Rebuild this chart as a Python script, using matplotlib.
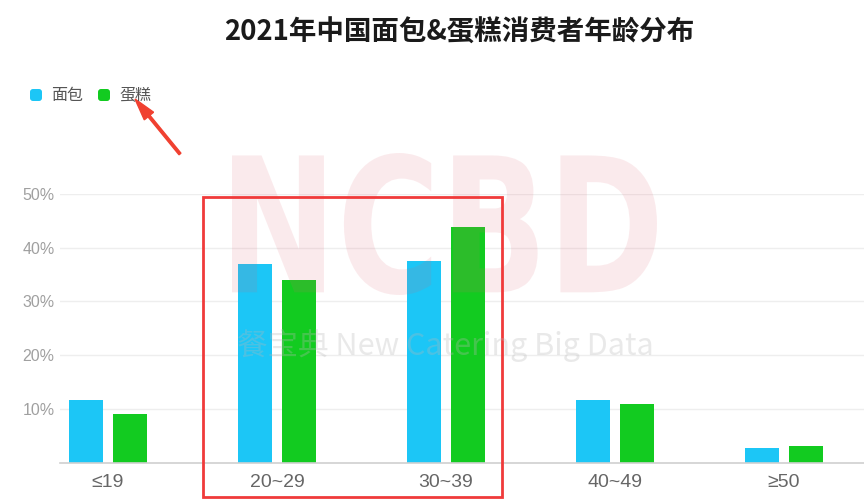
import matplotlib.pyplot as plt
import numpy as np
from matplotlib.patches import FancyBboxPatch, Rectangle, PathPatch, FancyArrow
from matplotlib.textpath import TextPath
from matplotlib.font_manager import FontProperties
from matplotlib.transforms import Affine2D

plt.rcParams['font.family'] = ['Noto Sans CJK SC', 'DejaVu Sans']

title = "2021年中国面包&蛋糕消费者年龄分布"
ages = ["≤19", "20~29", "30~39", "40~49", "≥50"]
series = ["面包", "蛋糕"]
bread = [11.7, 37.0, 37.6, 11.7, 2.8]
cake = [9.0, 34.0, 43.8, 10.9, 3.2]
colors = ["#1cc6f6", "#12cb20"]
yticks = [10, 20, 30, 40, 50]

W, H = 864, 501
fig = plt.figure(figsize=(W / 100, H / 100), dpi=100)
ax = fig.add_axes([60 / W, (H - 462.7) / H, 804 / W, (462.7 - 194) / H])

x = np.arange(len(ages))
width = 0.2
ax.bar(x - 0.13, bread, width, color=colors[0], zorder=2)
ax.bar(x + 0.13, cake, width, color=colors[1], zorder=2)

ax.set_xlim(-0.284, 4.473)
ax.set_ylim(0, 50)
ax.set_yticks(yticks)
ax.set_yticklabels([f"{v}%" for v in yticks])
ax.set_xticks(x)
ax.set_xticklabels(ages)
ax.tick_params(axis='y', length=0, pad=4, labelsize=11.5, labelcolor="#a0a0a0")
ax.tick_params(axis='x', length=0, pad=8, labelsize=14, labelcolor="#666666")
for lbl in ax.get_yticklabels():
    lbl.set_family(['Liberation Sans', 'DejaVu Sans'])
for lbl in ax.get_xticklabels():
    lbl.set_family(['Liberation Sans', 'DejaVu Sans'])
ax.grid(axis='y', color="#eeeeee", linewidth=1, zorder=0)
for s in ["top", "right", "left"]:
    ax.spines[s].set_visible(False)
ax.spines["bottom"].set_color("#d0d0d0")
ax.spines["bottom"].set_linewidth(1.2)

fig.text(459 / W, 1 - 33 / H, title, ha="center", va="center",
         fontsize=19.8, fontweight="bold", color="#1a1a1a")

# overlay in pixel coordinates for legend, watermark and annotations
ov = fig.add_axes([0, 0, 1, 1], zorder=5)
ov.set_xlim(0, W)
ov.set_ylim(H, 0)
ov.axis("off")
ov.patch.set_alpha(0)

# watermark NCBD
fp = FontProperties(family="DejaVu Sans", weight="bold")
tp = TextPath((0, 0), "NCBD", size=100, prop=fp)
ext = tp.get_extents()
sx = (657 - 232) / ext.width
sy = (295 - 153) / ext.height
tr = Affine2D().translate(-ext.x0, -ext.y0).scale(sx, -sy).translate(232, 295)
ov.add_patch(PathPatch(tr.transform_path(tp), facecolor="#e06070", edgecolor="none", alpha=0.13))
ov.text(445, 345, "餐宝典 New Catering Big Data", ha="center", va="center",
        fontsize=22, color="#b8b8b8", alpha=0.3)

# legend
lx = [30, 98]
for i, name in enumerate(series):
    ov.add_patch(FancyBboxPatch((lx[i], 89), 12, 12, boxstyle="round,pad=0,rounding_size=3",
                                facecolor=colors[i], edgecolor="none"))
    ov.text(lx[i] + 21, 95, name, ha="left", va="center", fontsize=11.5, color="#555555")

# red box and arrow
ov.add_patch(Rectangle((203, 197), 299, 300, fill=False, edgecolor="#f03a3a", linewidth=2))
ov.add_patch(FancyArrow(180, 154, -45, -55, width=2.5, head_width=12, head_length=22,
                        length_includes_head=True, color="#f04030"))

fig.savefig("out.png", dpi=100)
